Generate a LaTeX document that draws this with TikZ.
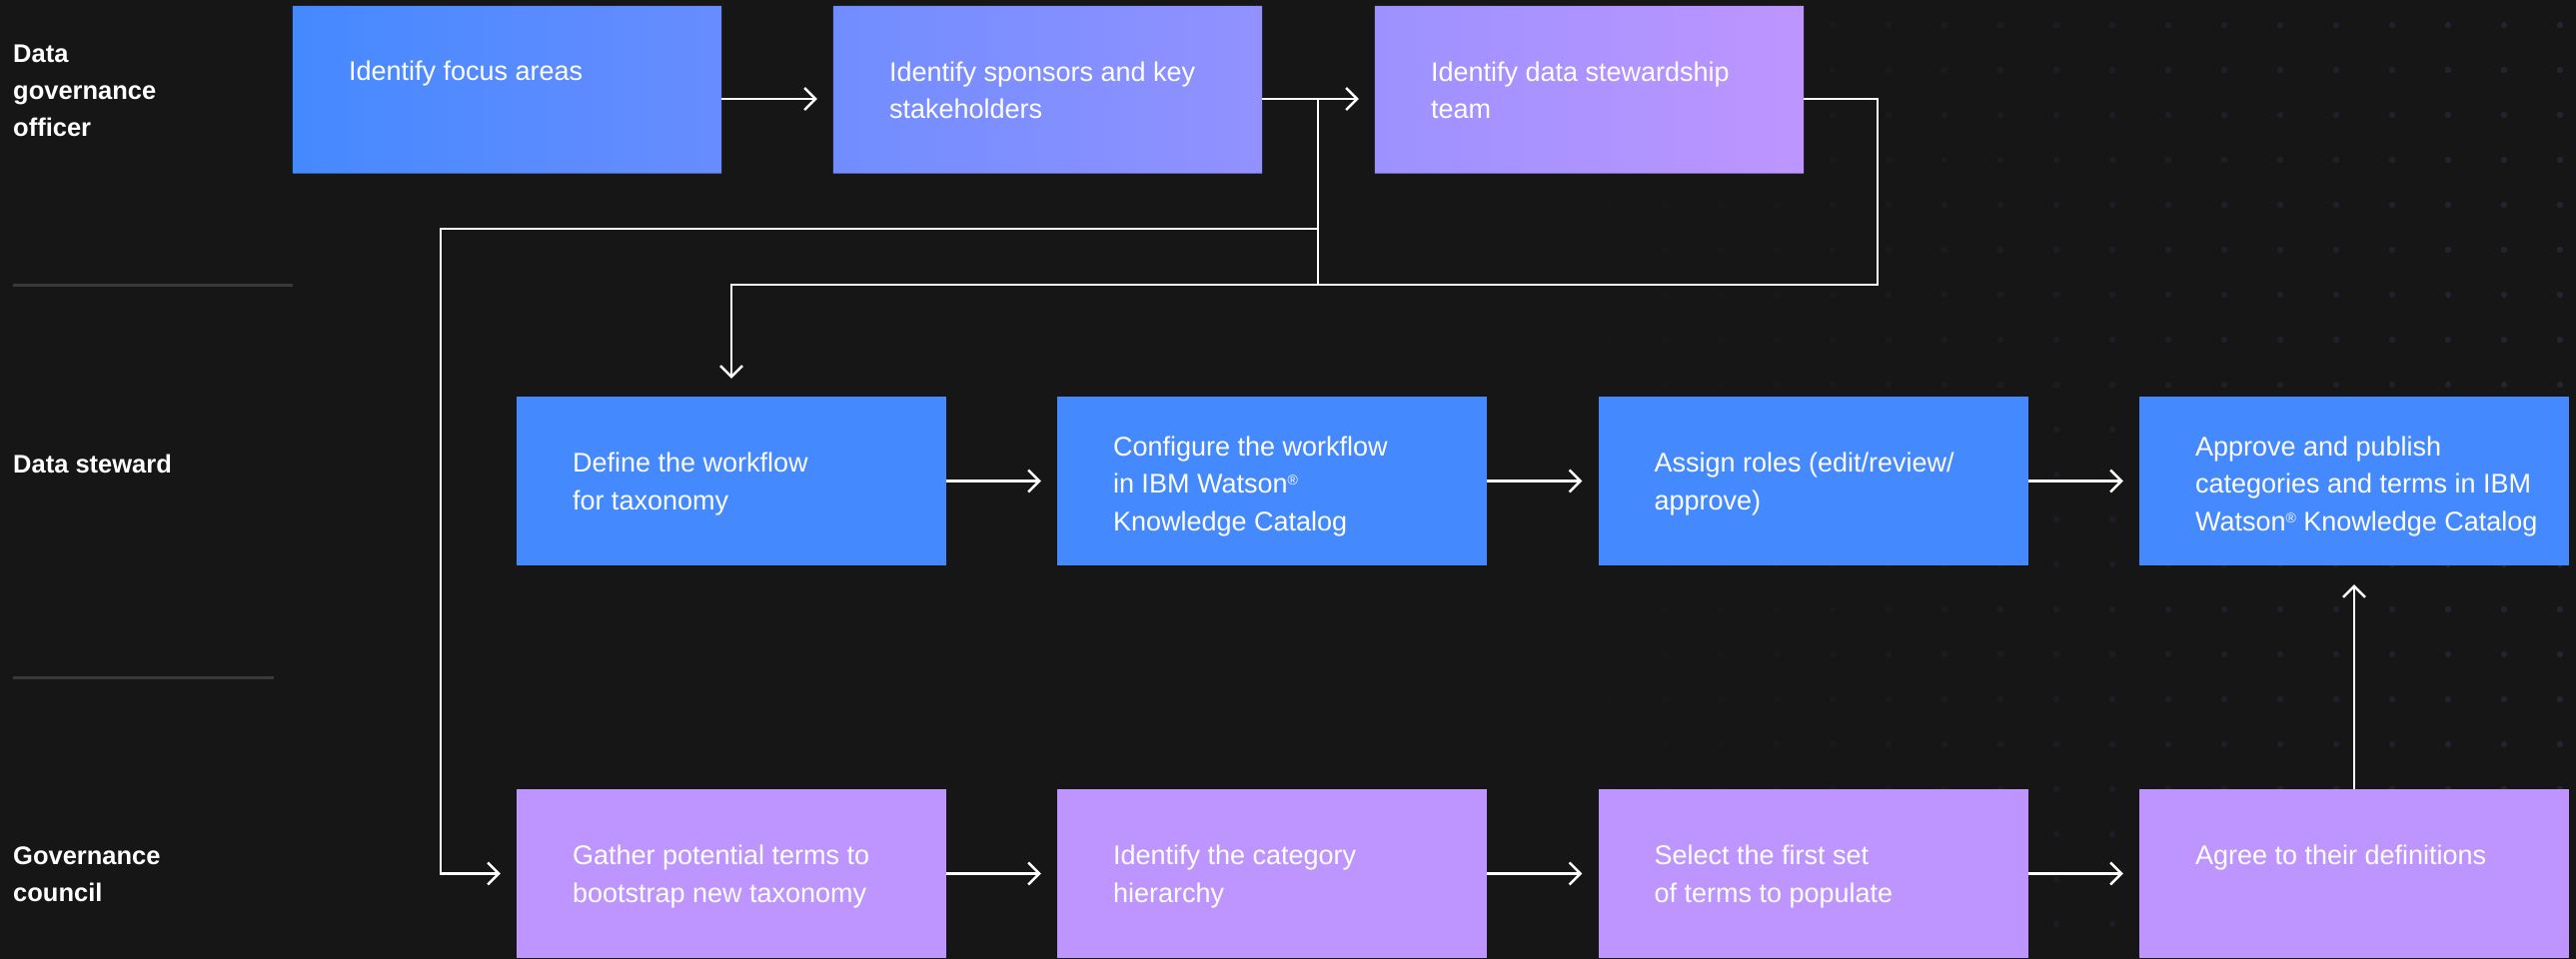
\documentclass[tikz,border=0pt]{standalone}
\usepackage{fontspec}
\setmainfont{Liberation Sans}
\usetikzlibrary{arrows.meta,calc}
\definecolor{bgc}{HTML}{161616}
\definecolor{ibmblue}{HTML}{4589FF}
\definecolor{ibmpurple}{HTML}{BE95FF}
\definecolor{sepc}{HTML}{393939}
\definecolor{dotc}{HTML}{2C2C44}
\pgfdeclarelayer{background}
\pgfsetlayers{background,main}
\newcommand{\regmark}{{\fontsize{14}{14}\selectfont\raisebox{8pt}{®}}}
\tikzset{
  boxblue/.style={rectangle, draw=none, fill=ibmblue, minimum width=430pt, minimum height=169pt, inner sep=0pt},
  boxpurple/.style={rectangle, draw=none, fill=ibmpurple, minimum width=430pt, minimum height=169pt, inner sep=0pt},
  boxgrad/.style={rectangle, draw=none, minimum width=429pt, minimum height=167.5pt, inner sep=0pt},
  txt/.style={text=white, font=\fontsize{27}{37.5}\selectfont, align=left, inner sep=0pt, anchor=west,
    execute at begin node=\strut, execute at end node=\strut},
  lane/.style={text=white, font=\fontsize{25.5}{37}\selectfont\bfseries, align=left, inner sep=0pt, anchor=west,
    execute at begin node=\strut, execute at end node=\strut},
  sepline/.style={draw=sepc, line width=3pt},
  conn/.style={draw=white, line width=2.4pt},
  arr/.style={draw=white, line width=2.4pt, -{Straight Barb[length=11pt,width=22pt]}, shorten >=16pt},
}
\begin{document}
\begin{tikzpicture}[x=1pt,y=-1pt]
\useasboundingbox (0,0) rectangle (2578,960);

% top row (gradient boxes)
\node[boxgrad] (g1) at (507.5,89.75) {};
\node[boxgrad] (g2) at (1048.5,89.75) {};
\node[boxgrad] (g3) at (1590.5,89.75) {};
% middle row
\node[boxblue] (m1) at (732,481.5) {};
\node[boxblue] (m2) at (1273,481.5) {};
\node[boxblue] (m3) at (1814.5,481.5) {};
\node[boxblue] (m4) at (2356,481.5) {};
% bottom row
\node[boxpurple] (c1) at (732,874.5) {};
\node[boxpurple] (c2) at (1273,874.5) {};
\node[boxpurple] (c3) at (1814.5,874.5) {};
\node[boxpurple] (c4) at (2356,874.5) {};

\begin{pgfonlayer}{background}
  \fill[bgc] (0,0) rectangle (2578,960);
  \foreach \i in {0,...,19}{
    \foreach \j in {0,...,20}{
      \pgfmathsetmacro{\xx}{1498+56*\i}
      \pgfmathsetmacro{\yy}{25+45*\j}
      \pgfmathsetmacro{\op}{0.05+0.6*(\i/19)^1.3}
      \fill[dotc, opacity=\op] (\xx,\yy) circle (3.2);
    }
  }
  \shade[left color=ibmblue, right color=ibmpurple]
    (g1.north west) rectangle (g1.south east)
    (g2.north west) rectangle (g2.south east)
    (g3.north west) rectangle (g3.south east);
\end{pgfonlayer}

% texts
\node[txt] (g1t) at ([shift={(56,-16.75)}]g1.west) {Identify focus areas};
\node[txt] (g2t) at ([shift={(56,6)}]g2.west) {Identify sponsors and key\\stakeholders};
\node[txt] (g3t) at ([shift={(56,6)}]g3.west) {Identify data stewardship\\team};
\node[txt] (m1t) at ([shift={(56,6)}]m1.west) {Define the workflow\\for taxonomy};
\node[txt] (m2t) at ([shift={(56,8)}]m2.west) {Configure the workflow\\in IBM Watson\regmark\\Knowledge Catalog};
\node[txt] (m3t) at ([shift={(56,6)}]m3.west) {Assign roles (edit/review/\\approve)};
\node[txt] (m4t) at ([shift={(56,8)}]m4.west) {Approve and publish\\categories and terms in IBM\\Watson\regmark{} Knowledge Catalog};
\node[txt] (c1t) at ([shift={(56,6)}]c1.west) {Gather potential terms to\\bootstrap new taxonomy};
\node[txt] (c2t) at ([shift={(56,6)}]c2.west) {Identify the category\\hierarchy};
\node[txt] (c3t) at ([shift={(56,6)}]c3.west) {Select the first set\\of terms to populate};
\node[txt] (c4t) at ([shift={(56,-16.75)}]c4.west) {Agree to their definitions};

% lane labels
\node[lane] (l1) at (13,96) {Data\\governance\\officer};
\node[lane] (l2) at (13,466) {Data steward};
\node[lane] (l3) at (13,880.5) {Governance\\council};
\coordinate (s1a) at (13,285);
\coordinate (s1b) at (293,285);
\coordinate (s2a) at (13,678);
\coordinate (s2b) at (274,678);
\draw[sepline] (s1a) -- (s1b);
\draw[sepline] (s2a) -- (s2b);

% connectors
\coordinate (ya) at (0,99);
\coordinate (j1) at (1319,229);
\coordinate (j2) at (1319,285);
\coordinate (xl) at (441,229);
\coordinate (xr) at (1879,285);
\draw[arr] (g1.east |- ya) -- (g2.west |- ya);
\draw[arr] (g2.east |- ya) -- (g3.west |- ya);
\draw[conn] (g2.east |- ya) -| (j2);
\draw[arr, shorten >=18pt] (g3.east |- ya) -| (xr) -| (m1.north);
\draw[arr] (j1) -- (xl) |- (c1.west);
\draw[arr] (m1) -- (m2);
\draw[arr] (m2) -- (m3);
\draw[arr] (m3) -- (m4);
\draw[arr] (c1) -- (c2);
\draw[arr] (c2) -- (c3);
\draw[arr] (c3) -- (c4);
\draw[arr, shorten >=19pt] (c4.north) -- (m4.south);
\end{tikzpicture}
\end{document}
